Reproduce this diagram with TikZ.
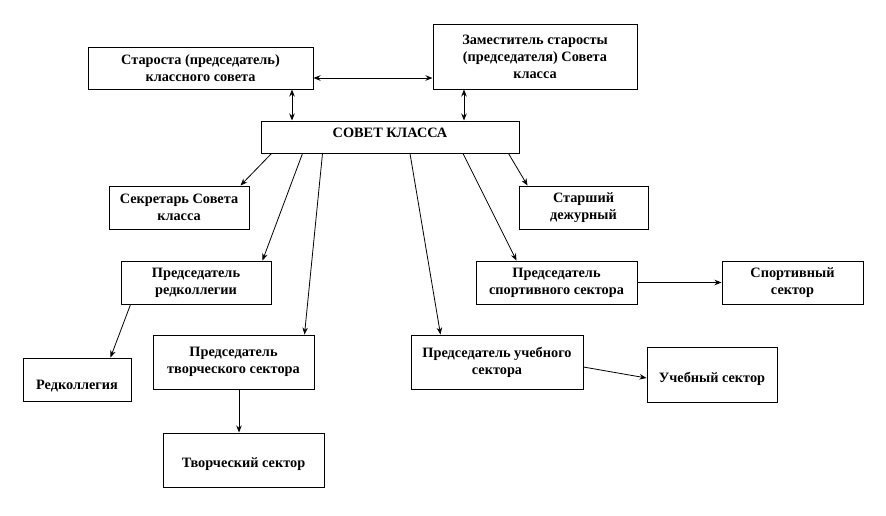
\documentclass[tikz,border=0pt]{standalone}
\usepackage{fontspec}
\setmainfont{Liberation Serif}
\usepackage{tikz}
\usetikzlibrary{arrows.meta}
\tikzstyle{box} = [rectangle, draw=black, line width=1pt, inner sep=2pt, text centered, align=center, font=\bfseries\fontsize{14.3}{17}\selectfont]
\tikzstyle{arrow} = [line width=0.8pt,->,>={Stealth[length=7pt,width=5.5pt]}]
\tikzstyle{twoway} = [line width=0.8pt,<->,>={Stealth[length=7pt,width=5.5pt]}]

\begin{document}
\begin{tikzpicture}[x=1pt,y=-1pt]
			\useasboundingbox (0,0) rectangle (886,515);
			\node (starosta) [box, minimum width=225pt, minimum height=42pt] at (200.5,68) {Староста (председатель)\\классного совета};
			\node (zam) [box, minimum width=204pt, minimum height=65pt] at (535,56.5) {Заместитель старосты\\(председателя) Совета\\класса};
			\node (sovet) [box, minimum width=258pt, minimum height=32pt, text depth=8pt] at (390,137) {СОВЕТ КЛАССА};
			\node (sekr) [box, minimum width=140pt, minimum height=43pt] at (179,207.5) {Секретарь Совета\\класса};
			\node (dezhur) [box, minimum width=129pt, minimum height=43pt] at (583.5,207.5) {Старший\\дежурный};
			\node (predred) [box, minimum width=150pt, minimum height=43pt] at (196,282.5) {Председатель\\редколлегии};
			\node (predsport) [box, minimum width=161pt, minimum height=43pt] at (556.5,282.5) {Председатель\\спортивного сектора};
			\node (sport) [box, minimum width=141pt, minimum height=43pt] at (792.5,282.5) {Спортивный\\сектор};
			\node (redkol) [box, minimum width=108pt, minimum height=43pt, text height=22pt] at (77,379.5) {Редколлегия};
			\node (predtvor) [box, minimum width=161pt, minimum height=54pt] at (233.5,362) {Председатель\\творческого сектора};
			\node (preducheb) [box, minimum width=172pt, minimum height=54pt] at (497,362) {Председатель учебного\\сектора};
			\node (ucheb) [box, minimum width=130pt, minimum height=55pt, text height=20pt] at (712,374.5) {Учебный сектор};
			\node (tvor) [box, minimum width=161pt, minimum height=54pt, text height=18pt] at (243.5,460) {Творческий сектор};

			\coordinate (link) at ([yshift=-10pt]starosta.east);
			\draw [twoway] (link) -- (link -| zam.west);
			\draw [twoway] ([xshift=-98pt]sovet.north |- starosta.south) -- ([xshift=-98pt]sovet.north);
			\draw [twoway] ([xshift=74pt]sovet.north |- zam.south) -- ([xshift=74pt]sovet.north);
			\draw [arrow] ([xshift=11pt]sovet.south west) -- ([xshift=-9pt]sekr.north east);
			\draw [arrow] ([xshift=42pt]sovet.south west) -- ([xshift=-9pt]predred.north east);
			\draw [arrow] ([xshift=62pt]sovet.south west) -- ([xshift=-10pt]predtvor.north east);
			\draw [arrow] ([xshift=20pt]sovet.south) -- ([xshift=30pt]preducheb.north west);
			\draw [arrow] ([xshift=73pt]sovet.south) -- ([xshift=41pt]predsport.north west);
			\draw [arrow] ([xshift=-11pt]sovet.south east) -- ([xshift=9pt]dezhur.north west);
			\draw [arrow] ([xshift=10pt]predred.south west) -- ([xshift=-21pt]redkol.north east);
			\draw [arrow] ([xshift=5.5pt]predtvor.south) -- ([xshift=5.5pt]predtvor.south |- tvor.north);
			\draw [arrow] (predsport) -- (sport);
			\draw [arrow] ([yshift=-5pt]preducheb.east) -- ([yshift=-3.5pt]ucheb.west);
		\end{tikzpicture}
\end{document}
